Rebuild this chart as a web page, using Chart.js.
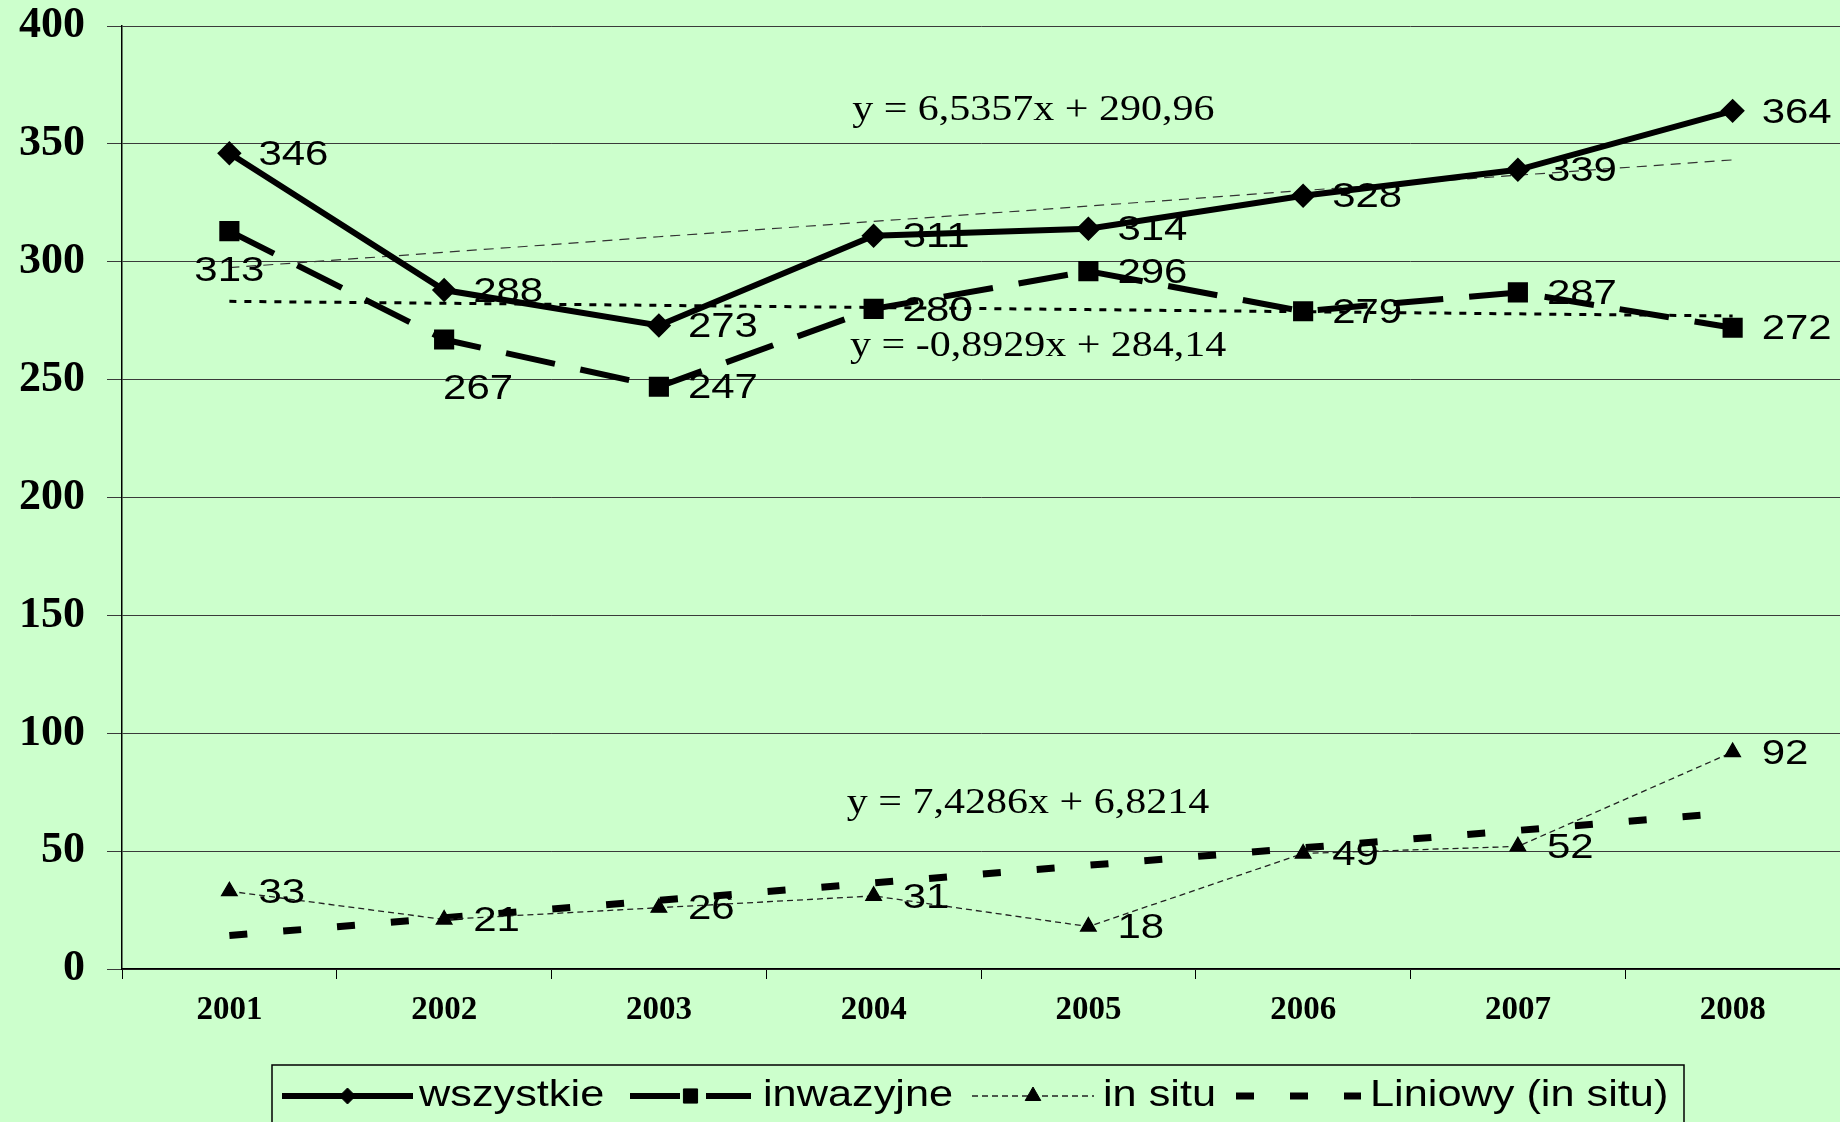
<!DOCTYPE html>
<html>
<head>
<meta charset="utf-8">
<script src="https://cdn.jsdelivr.net/npm/chart.js@4.4.1/dist/chart.umd.min.js"></script>
<style>
  html, body { margin: 0; padding: 0; background: #ccffcc; }
  canvas { display: block; }
</style>
</head>
<body>
<canvas id="chart" width="1840" height="1122"></canvas>
<script>
// data
const years = ['2001', '2002', '2003', '2004', '2005', '2006', '2007', '2008'];
const wszystkie = [346, 288, 273, 311, 314, 328, 339, 364];
const inwazyjne = [313, 267, 247, 280, 296, 279, 287, 272];
const inSitu = [33, 21, 26, 31, 18, 49, 52, 92];
// linear trend lines as drawn (they follow the printed equations)
const trendWszystkie = [297.5, 304.0, 310.6, 317.1, 323.6, 330.2, 336.7, 343.2];
const trendInwazyjne = [283.2, 282.4, 281.5, 280.6, 279.7, 278.8, 277.9, 277.0];
const trendInSitu = [14.2, 21.7, 29.1, 36.5, 44.0, 51.4, 58.8, 66.3];
const yTicks = [0, 50, 100, 150, 200, 250, 300, 350, 400];
const equations = ['y = 6,5357x + 290,96', 'y = -0,8929x + 284,14', 'y = 7,4286x + 6,8214'];
const legendNames = ['wszystkie', 'inwazyjne', 'in situ', 'Liniowy (in situ)'];

// where the equation texts sit, in axis units (category index, value)
const eqAnchors = [[2.9, 364], [2.89, 264], [2.875, 70]];
// data label placement: default right of the point; a couple sit below
const labelSpecial = { '1-0': { dx: 0, dy: 40, align: 'center' }, '1-1': { dx: 34, dy: 50, align: 'center' } };

const SANS = '"Liberation Sans", Arial, sans-serif';
const SERIF = '"Liberation Serif", "Times New Roman", serif';

function stretchText(ctx, text, x, y, align, sx) {
    ctx.save();
    ctx.translate(x, y);
    ctx.scale(sx, 1);
    ctx.textAlign = align;
    ctx.textBaseline = 'middle';
    ctx.fillText(text, 0, 0);
    ctx.restore();
}

const extrasPlugin = {
    id: 'extras',
    afterDatasetsDraw(chart) {
        const ctx = chart.ctx;
        ctx.save();
        ctx.fillStyle = '#000';
        // data labels for the three measured series
        ctx.font = '35px ' + SANS;
        [0, 1, 2].forEach(function (di) {
            chart.getDatasetMeta(di).data.forEach(function (pt, j) {
                const val = chart.data.datasets[di].data[j];
                const sp = labelSpecial[di + '-' + j];
                if (sp) {
                    stretchText(ctx, String(val), pt.x + sp.dx, pt.y + sp.dy, sp.align, 1.2);
                } else {
                    stretchText(ctx, String(val), pt.x + 29, pt.y + 2, 'left', 1.2);
                }
            });
        });
        // trend equations
        ctx.font = '35px ' + SERIF;
        const xs = chart.scales.x, ys = chart.scales.y;
        equations.forEach(function (eq, i) {
            stretchText(ctx, eq, xs.getPixelForValue(eqAnchors[i][0]), ys.getPixelForValue(eqAnchors[i][1]), 'left', 1.2);
        });
        ctx.restore();
    },
    afterDraw(chart) {
        const ctx = chart.ctx;
        ctx.save();
        // legend box
        ctx.fillStyle = '#ccffcc';
        ctx.fillRect(272, 1065, 1412, 80);
        ctx.strokeStyle = '#000';
        ctx.lineWidth = 1.5;
        ctx.strokeRect(272, 1065, 1412, 80);
        const items = [
            { ds: 0, x0: 282, x1: 413, tx: 419 },
            { ds: 1, x0: 630, x1: 751, tx: 763 },
            { ds: 2, x0: 972, x1: 1094, tx: 1103 },
            { ds: 5, x0: 1236, x1: 1361, tx: 1370 }
        ];
        const y = 1096;
        items.forEach(function (it, i) {
            const d = chart.data.datasets[it.ds];
            ctx.save();
            ctx.strokeStyle = d.borderColor;
            ctx.lineWidth = d.borderWidth;
            ctx.setLineDash(d.borderDash || []);
            ctx.beginPath();
            ctx.moveTo(it.x0, y);
            ctx.lineTo(it.x1, y);
            ctx.stroke();
            ctx.setLineDash([]);
            if (d.pointRadius > 0 && Chart.helpers && Chart.helpers.drawPoint) {
                ctx.fillStyle = d.pointBackgroundColor;
                ctx.strokeStyle = d.pointBorderColor;
                ctx.lineWidth = 1;
                Chart.helpers.drawPoint(ctx, { pointStyle: d.pointStyle, radius: d.pointRadius, rotation: 0, borderWidth: 1 },
                    (it.x0 + it.x1) / 2, y);
            }
            ctx.restore();
            ctx.fillStyle = '#000';
            ctx.font = '37px ' + SANS;
            stretchText(ctx, legendNames[i], it.tx, y, 'left', 1.17);
        });
        ctx.restore();
    }
};

const ctxMain = document.getElementById('chart').getContext('2d');
const chart = new Chart(ctxMain, {
    type: 'line',
    data: {
        labels: years,
        datasets: [
            {
                label: legendNames[0],
                data: wszystkie,
                borderColor: '#000',
                borderWidth: 6,
                pointStyle: 'rectRot',
                pointRadius: 8,
                pointBackgroundColor: '#000',
                pointBorderColor: '#000',
                tension: 0
            },
            {
                label: legendNames[1],
                data: inwazyjne,
                borderColor: '#000',
                borderWidth: 6,
                borderDash: [50, 26],
                pointStyle: 'rect',
                pointRadius: 10,
                pointBackgroundColor: '#000',
                pointBorderColor: '#000',
                tension: 0
            },
            {
                label: legendNames[2],
                data: inSitu,
                borderColor: '#222',
                borderWidth: 1.3,
                borderDash: [6, 4],
                pointStyle: 'triangle',
                pointRadius: 9,
                pointBackgroundColor: '#000',
                pointBorderColor: '#000',
                tension: 0
            },
            {
                label: 'Liniowy (wszystkie)',
                data: trendWszystkie,
                borderColor: '#333',
                borderWidth: 1.2,
                borderDash: [10, 7],
                pointRadius: 0,
                tension: 0
            },
            {
                label: 'Liniowy (inwazyjne)',
                data: trendInwazyjne,
                borderColor: '#000',
                borderWidth: 3,
                borderDash: [7, 8],
                pointRadius: 0,
                tension: 0
            },
            {
                label: legendNames[3],
                data: trendInSitu,
                borderColor: '#000',
                borderWidth: 7,
                borderDash: [18, 36],
                pointRadius: 0,
                tension: 0
            }
        ]
    },
    options: {
        responsive: false,
        animation: false,
        layout: { autoPadding: false, padding: { top: 26, left: 0, right: 0, bottom: 0 } },
        plugins: {
            legend: { display: false },
            tooltip: { enabled: false }
        },
        scales: {
            x: {
                offset: true,
                grid: { offset: true, drawOnChartArea: false, drawTicks: true, tickLength: 10, color: '#000', lineWidth: 1 },
                border: { color: '#000', width: 1.5 },
                ticks: {
                    color: '#000',
                    font: { family: SERIF, weight: 'bold', size: 33 },
                    padding: 12,
                    maxRotation: 0,
                    autoSkip: false
                },
                afterFit: function (s) {
                    s.height = 153;
                    s.paddingLeft = 0;
                    s.paddingRight = 0;
                }
            },
            y: {
                min: yTicks[0],
                max: yTicks[yTicks.length - 1],
                grid: { color: '#3a3a3a', lineWidth: 1, tickLength: 15, drawTicks: true },
                border: { color: '#000', width: 1.5 },
                ticks: {
                    stepSize: yTicks[1] - yTicks[0],
                    color: '#000',
                    font: { family: SERIF, weight: 'bold', size: 44 },
                    padding: 22
                },
                afterFit: function (s) {
                    s.width = 122;
                    s.paddingTop = 0;
                    s.paddingBottom = 0;
                }
            }
        }
    },
    plugins: [extrasPlugin]
});
</script>
</body>
</html>
